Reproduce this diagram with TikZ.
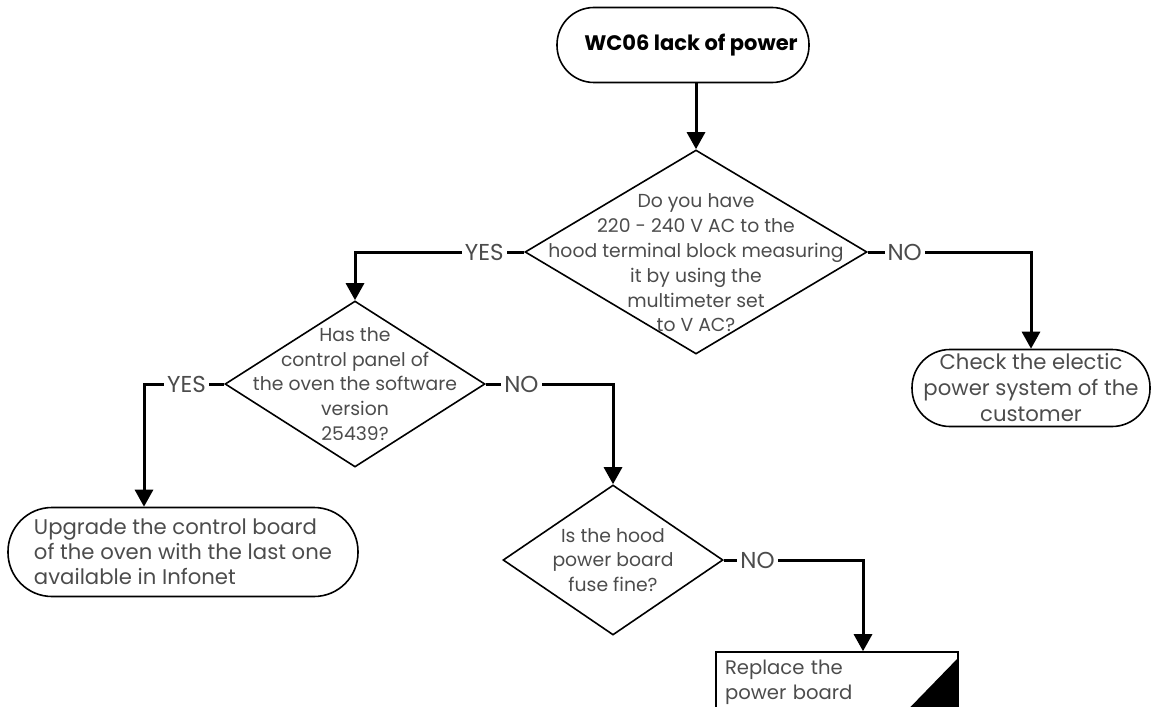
\documentclass[tikz,border=0pt]{standalone}
\usepackage{fontspec}
\setmainfont{Poppins}
\definecolor{flowgray}{rgb}{0.3,0.3,0.3}
\usetikzlibrary{arrows.meta,positioning,shapes.geometric}

\begin{document}
\begin{tikzpicture}[x=0.5pt, y=-0.5pt,
      term/.style={draw, rectangle, line width=0.8pt, inner sep=1pt,
                  align=center, text=flowgray,
                  font=\fontsize{10.6}{13}\selectfont},
      dec/.style={draw, diamond, line width=0.8pt, inner sep=0pt},
      qtxt/.style={align=center, text=flowgray,
                  font=\fontsize{9.4}{12.4}\selectfont},
      act/.style={draw, rectangle, line width=0.8pt, inner sep=3pt,
                  align=left, text=flowgray,
                  font=\fontsize{9.8}{12.4}\selectfont},
      yn/.style={fill=white, inner sep=1.5pt, text=flowgray,
                  font=\fontsize{11.5}{12}\selectfont},
      arr/.style={-{Triangle[width=9pt,length=8.5pt]}, line width=1.5pt}
  ]
    \useasboundingbox (0,0) rectangle (1154,706);

    \node[term, rounded corners=18.5pt, minimum width=126pt, minimum height=37.5pt,
          font=\fontsize{10.5}{12}\selectfont\bfseries, text=black] (start) at (683,45)
          {\hspace{8pt}WC06 lack of power};
    \node[dec, minimum width=171pt, minimum height=102pt,
          label={[qtxt, yshift=-5.5pt]center:{Do you have\\220 - 240 V AC to the\\
          hood terminal block measuring\\it by using the\\multimeter set\\to V AC?}}] (q1) at (696,252) {};
    \node[term, rounded corners=19pt, minimum width=119pt, minimum height=38.5pt] (chk) at (1031,388)
          {Check the electic\\power system of the\\customer};
    \node[dec, minimum width=130pt, minimum height=83pt,
          label={[qtxt]center:{Has the\\control panel of\\the oven the software\\version\\25439?}}] (q2) at (355,384) {};
    \node[term, rounded corners=22pt, minimum width=175pt, minimum height=44.5pt, align=left,
          font=\fontsize{10.6}{12.5}\selectfont] (up) at (183,552)
          {Upgrade the control board\\ of the oven with the last one\\available in Infonet};
    \node[dec, minimum width=110pt, minimum height=75pt,
          label={[qtxt]center:{Is the hood\\power board\\fuse fine?}}] (q3) at (613,560) {};
    \node[act, minimum width=121pt, minimum height=30pt, text width=112pt] (rep) at (837,682)
          {Replace the\\power board};
    \fill ([yshift=-3pt]rep.north east) -- (rep.south east) -- ([xshift=-27pt]rep.south east) -- cycle;

    % connectors
    \draw[arr] (start.south -| q1.north) -- (q1.north);
    \draw[arr] (q1.west) -| node[yn, pos=0.118] {YES} (q2.north);
    \draw[arr] (q1.east) -| node[yn, pos=0.113] {NO} (chk.north);
    \draw[arr] (q2.west) -| node[yn, pos=0.235] {YES} ([xshift=-19.5pt]up.north);
    \draw[arr] (q2.east) -| node[yn, pos=0.14] {NO} (q3.north);
    \draw[arr] (q3.east) -| node[yn, pos=0.121] {NO} ([xshift=13pt]rep.north);
  \end{tikzpicture}
\end{document}
